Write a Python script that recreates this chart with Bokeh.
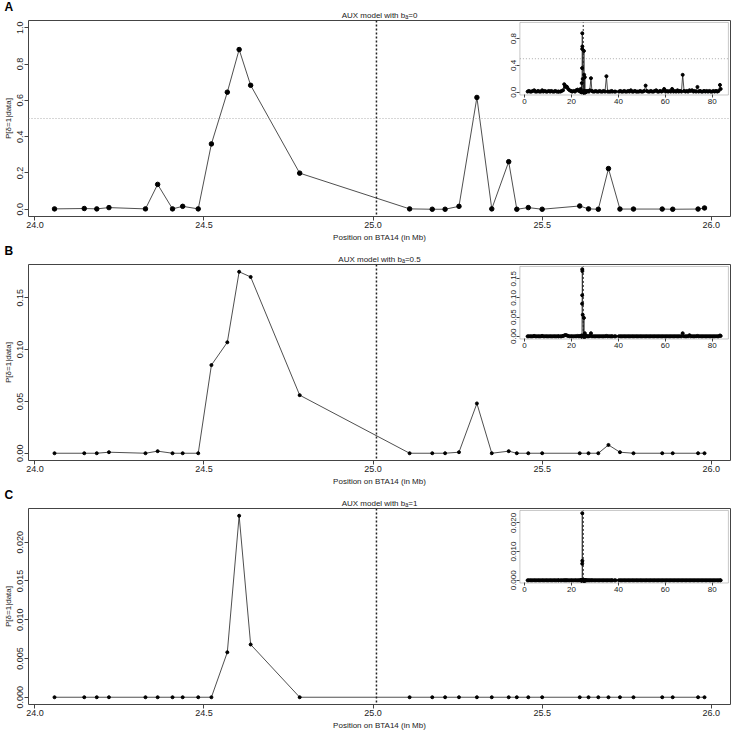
from bokeh.plotting import figure
from bokeh.models import (Range1d, LinearAxis, FixedTicker, Span, BoxAnnotation,
                          Title, ColumnDataSource, PrintfTickFormatter)
from bokeh.layouts import column
from bokeh.embed import file_html
from bokeh.resources import INLINE

FONT = "Liberation Sans"

# ---------------- data: zoomed region on BTA14 (Mb) ----------------
positions = [24.058, 24.146, 24.183, 24.219, 24.327, 24.363, 24.407, 24.437, 24.483, 24.522,
             24.569, 24.604, 24.638, 24.783, 25.108, 25.175, 25.213, 25.254, 25.307, 25.351,
             25.401, 25.425, 25.459, 25.500, 25.611, 25.637, 25.666, 25.696, 25.730, 25.770,
             25.855, 25.886, 25.961, 25.980]
prob_b0 = [0.002, 0.004, 0.002, 0.009, 0.002, 0.137, 0.002, 0.016, 0.002, 0.360,
           0.645, 0.880, 0.683, 0.199, 0.002, 0.000, 0.000, 0.016, 0.616, 0.002,
           0.262, 0.000, 0.009, 0.000, 0.018, 0.002, 0.000, 0.224, 0.001, 0.001,
           0.001, 0.000, 0.001, 0.007]
prob_b05 = [0.000, 0.000, 0.000, 0.001, 0.000, 0.002, 0.000, 0.000, 0.000, 0.085,
            0.107, 0.175, 0.170, 0.056, 0.000, 0.000, 0.000, 0.001, 0.048, 0.000,
            0.002, 0.000, 0.000, 0.000, 0.000, 0.000, 0.000, 0.008, 0.001, 0.000,
            0.000, 0.000, 0.000, 0.000]
prob_b1 = [0.0, 0.0, 0.0, 0.0, 0.0, 0.0, 0.0, 0.0, 0.0, 0.0,
           0.0058, 0.0234, 0.0068, 0.0, 0.0, 0.0, 0.0, 0.0, 0.0, 0.0,
           0.0, 0.0, 0.0, 0.0, 0.0, 0.0, 0.0, 0.0, 0.0, 0.0,
           0.0, 0.0, 0.0, 0.0]

# ---------------- data: whole chromosome (insets) ----------------
gw_left_pos = [1.3, 1.8, 2.4, 2.9, 3.5, 4.1, 4.6, 5.2, 5.8, 6.3, 6.9, 7.5, 8.0, 8.6, 9.2,
               9.7, 10.3, 10.9, 11.4, 12.0, 12.6, 13.1, 13.7, 14.3, 14.6, 15.3, 15.8, 16.4,
               16.9, 17.3, 17.7, 18.1, 18.6, 19.2, 19.8, 20.3, 20.9, 21.5, 22.0, 22.6, 23.1,
               23.6, 23.9]
gw_left_b0 = [0.01, 0.02, 0.01, 0.01, 0.02, 0.03, 0.01, 0.01, 0.02, 0.01, 0.01, 0.03, 0.01,
              0.02, 0.01, 0.01, 0.02, 0.01, 0.02, 0.01, 0.01, 0.02, 0.01, 0.01, 0.01, 0.01,
              0.02, 0.03, 0.12, 0.08, 0.09, 0.08, 0.05, 0.03, 0.02, 0.01, 0.02, 0.01, 0.03,
              0.04, 0.02, 0.03, 0.05]
gw_left_b05 = [0.0, 0.0, 0.0, 0.0, 0.0, 0.001, 0.0, 0.0, 0.0, 0.0, 0.0, 0.001, 0.0,
               0.0, 0.0, 0.0, 0.0, 0.0, 0.0, 0.0, 0.0, 0.0, 0.0, 0.0, 0.0, 0.0,
               0.0, 0.001, 0.002, 0.003, 0.003, 0.002, 0.001, 0.0, 0.0, 0.0, 0.0, 0.0, 0.0,
               0.001, 0.0, 0.0, 0.001]
gw_left_b1 = [0.0, 0.0, 0.0, 0.0, 0.0, 0.0, 0.0, 0.0, 0.0, 0.0, 0.0, 0.0, 0.0,
              0.0, 0.0, 0.0, 0.0, 0.0, 0.0, 0.0, 0.0, 0.0, 0.0, 0.0, 0.0, 0.0,
              0.0, 0.0, 0.0, 0.0, 0.0, 0.0, 0.0, 0.0, 0.0, 0.0, 0.0, 0.0, 0.0,
              0.0, 0.0, 0.0, 0.0]
gw_right_pos = [26.3, 26.6, 27.0, 27.4, 27.8, 28.3, 28.7, 29.2, 29.8, 30.3,
                30.9, 31.5, 32.0, 32.6, 33.2, 33.7, 34.3, 34.9, 35.4, 36.0,
                36.6, 37.1, 37.4, 38.3, 38.8, 40.2, 40.8, 41.3, 41.9, 42.5,
                43.0, 43.6, 44.2, 44.7, 45.3, 45.9, 46.4, 47.0, 47.6, 48.1,
                48.7, 49.3, 49.8, 50.4, 51.0, 51.6, 52.1, 52.7, 53.3, 53.8,
                54.4, 55.0, 55.5, 56.1, 56.7, 57.2, 57.8, 58.4, 58.9, 59.5,
                60.1, 60.6, 61.2, 61.8, 62.3, 62.9, 63.5, 64.0, 64.6, 65.2,
                65.7, 66.3, 66.9, 67.4, 68.0, 68.6, 69.1, 69.7, 70.3, 70.8,
                71.4, 72.0, 72.5, 73.1, 73.7, 74.2, 74.8, 75.4, 75.9, 76.5,
                77.1, 77.6, 78.2, 78.8, 79.3, 79.9, 80.5, 81.0, 81.6, 82.2,
                82.7, 83.3, 83.6]
gw_right_b0 = [0.02, 0.01, 0.02, 0.01, 0.03, 0.21, 0.02, 0.01, 0.01, 0.02,
               0.01, 0.01, 0.02, 0.01, 0.01, 0.02, 0.01, 0.24, 0.01, 0.01,
               0.01, 0.02, 0.01, 0.01, 0.01, 0.01, 0.02, 0.01, 0.01, 0.02,
               0.01, 0.01, 0.02, 0.01, 0.03, 0.01, 0.01, 0.02, 0.01, 0.01,
               0.01, 0.02, 0.01, 0.01, 0.02, 0.10, 0.02, 0.01, 0.01, 0.02,
               0.01, 0.01, 0.02, 0.03, 0.01, 0.01, 0.02, 0.01, 0.02, 0.05,
               0.01, 0.02, 0.01, 0.02, 0.01, 0.05, 0.01, 0.02, 0.01, 0.03,
               0.01, 0.02, 0.01, 0.26, 0.02, 0.01, 0.02, 0.01, 0.03, 0.02,
               0.03, 0.01, 0.02, 0.01, 0.08, 0.01, 0.02, 0.01, 0.01, 0.02,
               0.01, 0.02, 0.01, 0.02, 0.01, 0.01, 0.02, 0.01, 0.02, 0.01,
               0.02, 0.11, 0.05]
gw_right_b05 = [0.001, 0.0, 0.0, 0.0, 0.001, 0.008, 0.0, 0.0, 0.0, 0.0,
                0.0, 0.0, 0.0, 0.0, 0.0, 0.0, 0.0, 0.001, 0.0, 0.0,
                0.0, 0.0, 0.0, 0.0, 0.0, 0.0, 0.0, 0.0, 0.0, 0.0,
                0.0, 0.0, 0.0, 0.0, 0.0, 0.0, 0.0, 0.0, 0.0, 0.0,
                0.0, 0.0, 0.0, 0.0, 0.0, 0.0, 0.0, 0.0, 0.0, 0.0,
                0.0, 0.0, 0.0, 0.0, 0.0, 0.0, 0.0, 0.0, 0.0, 0.0,
                0.0, 0.0, 0.0, 0.0, 0.0, 0.0, 0.0, 0.0, 0.0, 0.0,
                0.0, 0.0, 0.0, 0.008, 0.0, 0.0, 0.0, 0.0, 0.003, 0.0,
                0.0, 0.0, 0.0, 0.0, 0.001, 0.0, 0.0, 0.0, 0.0, 0.0,
                0.0, 0.0, 0.0, 0.0, 0.0, 0.0, 0.0, 0.0, 0.0, 0.0,
                0.0, 0.002, 0.001]
gw_right_b1 = [0.0, 0.0, 0.0, 0.0, 0.0, 0.0, 0.0, 0.0, 0.0, 0.0,
               0.0, 0.0, 0.0, 0.0, 0.0, 0.0, 0.0, 0.0, 0.0, 0.0,
               0.0, 0.0, 0.0, 0.0, 0.0, 0.0, 0.0, 0.0, 0.0, 0.0,
               0.0, 0.0, 0.0, 0.0, 0.0, 0.0, 0.0, 0.0, 0.0, 0.0,
               0.0, 0.0, 0.0, 0.0, 0.0, 0.0, 0.0, 0.0, 0.0, 0.0,
               0.0, 0.0, 0.0, 0.0, 0.0, 0.0, 0.0, 0.0, 0.0, 0.0,
               0.0, 0.0, 0.0, 0.0, 0.0, 0.0, 0.0, 0.0, 0.0, 0.0,
               0.0, 0.0, 0.0, 0.0, 0.0, 0.0, 0.0, 0.0, 0.0, 0.0,
               0.0, 0.0, 0.0, 0.0, 0.0, 0.0, 0.0, 0.0, 0.0, 0.0,
               0.0, 0.0, 0.0, 0.0, 0.0, 0.0, 0.0, 0.0, 0.0, 0.0,
               0.0, 0.0, 0.0]

panel_letters = ["A", "B", "C"]
panel_titles = ["AUX model with b\u2090=0", "AUX model with b\u2090=0.5", "AUX model with b\u2090=1"]
x_label = "Position on BTA14 (in Mb)"
y_label = "P[\u03b4=1|data]"
x_ticks = [24.0, 24.5, 25.0, 25.5, 26.0]
inset_x_ticks = [0, 20, 40, 60, 80]
main_y_ticks = [[0.0, 0.2, 0.4, 0.6, 0.8, 1.0], [0.0, 0.05, 0.10, 0.15],
                [0.0, 0.005, 0.010, 0.015, 0.020]]
inset_y_ticks = [[0.0, 0.4, 0.8], [0.0, 0.05, 0.10, 0.15], [0.0, 0.010, 0.020]]
y_formats = ["%.1f", "%.2f", "%.3f"]
inset_y_formats = ["%.1f", "%.2f", "%.3f"]
y_upper_fixed = [1.0, None, None]
qtl_position = 25.01
threshold = 0.5

series_main = [prob_b0, prob_b05, prob_b1]
series_left = [gw_left_b0, gw_left_b05, gw_left_b1]
series_right = [gw_right_b0, gw_right_b05, gw_right_b1]

# ---------------- layout constants ----------------
FRAME_W = 702
FRAME_H = 196
INSET_FX = (0.70, 0.997)
INSET_FY = (0.62, 0.99)
LINE_COL = "#222222"
BOX_COL = "#444444"


def padded(lo, hi, f=0.04):
    d = hi - lo
    return lo - f * d, hi + f * d


def embed_range(lo, hi, frac):
    span = (hi - lo) / (frac[1] - frac[0])
    start = lo - frac[0] * span
    return start, start + span


def style_axis(ax, fs="9px"):
    ax.axis_line_color = None
    ax.major_tick_line_color = BOX_COL
    ax.major_tick_out = 4
    ax.major_tick_in = 0
    ax.minor_tick_out = 0
    ax.minor_tick_in = 0
    ax.major_label_text_font = FONT
    ax.major_label_text_font_size = fs
    ax.major_label_text_color = "#222222"
    ax.major_label_standoff = 1
    ax.axis_label_text_font = FONT
    ax.axis_label_text_font_size = "8px"
    ax.axis_label_text_font_style = "normal"
    ax.axis_label_text_color = "#222222"
    ax.axis_label_standoff = 2


def make_panel(i):
    vals = series_main[i]
    xlo, xhi = padded(min(positions), max(positions))
    ytop = y_upper_fixed[i] if y_upper_fixed[i] is not None else max(vals)
    ylo, yhi = padded(0.0, ytop)

    p = figure(frame_width=FRAME_W, frame_height=FRAME_H,
               x_range=Range1d(xlo, xhi), y_range=Range1d(ylo, yhi),
               output_backend="svg", toolbar_location=None, title=None,
               min_border_left=24, min_border_right=2,
               min_border_top=20, min_border_bottom=0)
    p.xgrid.visible = False
    p.ygrid.visible = False
    p.outline_line_color = BOX_COL
    p.outline_line_width = 1
    p.background_fill_color = "white"
    p.border_fill_color = "white"

    # centred panel title (closest to the frame)
    p.add_layout(Title(text=panel_titles[i], align="center", text_font=FONT,
                       text_font_size="8px", text_font_style="normal",
                       text_color="#222222", standoff=2), "above")
    # bold panel letter, pulled down next to the centred title
    p.add_layout(Title(text=panel_letters[i], align="left", offset=-24, text_font=FONT,
                       text_font_size="12px", text_font_style="bold",
                       text_color="black", standoff=-13), "above")

    xa = p.xaxis[0]
    ya = p.yaxis[0]
    style_axis(xa)
    style_axis(ya)
    xa.ticker = FixedTicker(ticks=x_ticks)
    xa.formatter = PrintfTickFormatter(format="%.1f")
    xa.axis_label = x_label
    ya.ticker = FixedTicker(ticks=main_y_ticks[i])
    ya.formatter = PrintfTickFormatter(format=y_formats[i])
    ya.major_label_orientation = "vertical"
    ya.axis_label = y_label

    # reference lines
    p.add_layout(Span(location=qtl_position, dimension="height", line_color=LINE_COL,
                      line_width=1.5, line_dash="2 2"))
    if i == 0:
        p.add_layout(Span(location=threshold, dimension="width", line_color="#999999",
                          line_width=0.8, line_dash="1 2"))

    src = ColumnDataSource(dict(x=positions, y=vals))
    p.line("x", "y", source=src, line_color=LINE_COL, line_width=0.8)
    p.scatter("x", "y", source=src, size=4.5 if i == 0 else 3.0,
              fill_color="black", line_color="black")

    # ---------------- inset ----------------
    ins_x = gw_left_pos + positions + gw_right_pos
    ins_y = series_left[i] + vals + series_right[i]
    ixlo, ixhi = padded(min(ins_x), max(ins_x))
    itop = y_upper_fixed[i] if y_upper_fixed[i] is not None else max(ins_y)
    iylo, iyhi = padded(0.0, itop)
    rx0, rx1 = embed_range(ixlo, ixhi, INSET_FX)
    ry0, ry1 = embed_range(iylo, iyhi, INSET_FY)
    p.extra_x_ranges = {"ix": Range1d(rx0, rx1)}
    p.extra_y_ranges = {"iy": Range1d(ry0, ry1)}

    box = BoxAnnotation(left=ixlo, right=ixhi, bottom=iylo, top=iyhi,
                        x_range_name="ix", y_range_name="iy",
                        fill_color="white", fill_alpha=1.0,
                        line_color=BOX_COL, line_width=1, level="underlay")
    p.add_layout(box)

    p.segment(x0=[qtl_position], y0=[iylo], x1=[qtl_position], y1=[iyhi],
              x_range_name="ix", y_range_name="iy",
              line_color=LINE_COL, line_width=1.0, line_dash="2 2")
    if i == 0:
        p.segment(x0=[ixlo], y0=[threshold], x1=[ixhi], y1=[threshold],
                  x_range_name="ix", y_range_name="iy",
                  line_color="#999999", line_width=0.8, line_dash="1 2")

    isrc = ColumnDataSource(dict(x=ins_x, y=ins_y))
    p.line("x", "y", source=isrc, x_range_name="ix", y_range_name="iy",
           line_color=LINE_COL, line_width=0.8)
    p.scatter("x", "y", source=isrc, x_range_name="ix", y_range_name="iy",
              size=3.0, fill_color="black", line_color="black")

    ixa = LinearAxis(x_range_name="ix", y_range_name="iy", fixed_location=iylo,
                     ticker=FixedTicker(ticks=inset_x_ticks),
                     formatter=PrintfTickFormatter(format="%d"))
    style_axis(ixa, "8px")
    ixa.major_tick_out = 3
    p.add_layout(ixa, "below")

    iya = LinearAxis(x_range_name="ix", y_range_name="iy", fixed_location=ixlo,
                     ticker=FixedTicker(ticks=inset_y_ticks[i]),
                     formatter=PrintfTickFormatter(format=inset_y_formats[i]))
    style_axis(iya, "8px")
    iya.major_tick_out = 3
    iya.major_label_orientation = "vertical"
    p.add_layout(iya, "left")
    return p


layout = column(*[make_panel(i) for i in range(3)], spacing=0)
open("out.html", "w").write(file_html(layout, INLINE))
